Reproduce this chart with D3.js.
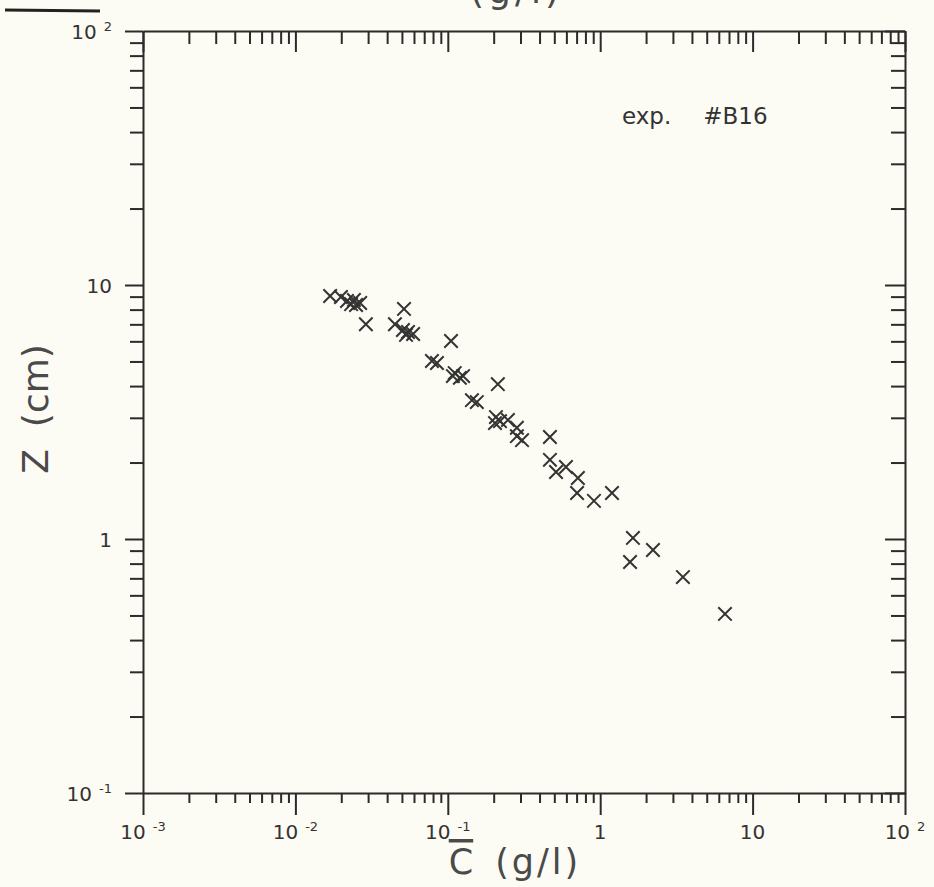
<!DOCTYPE html>
<html>
<head>
<meta charset="utf-8">
<script src="https://cdn.jsdelivr.net/npm/d3@7"></script>
<style>
  body { margin: 0; background: #fcfbf4; }
  svg { display: block; }
</style>
</head>
<body>
<div id="chart"></div>
<script>
// values: mean concentration C (g/l) against height Z (cm)
const concentration = [0.0169, 0.0199, 0.0218, 0.0232, 0.0250, 0.0266, 0.0242, 0.0290,
  0.0516, 0.0450, 0.0508, 0.0548, 0.0592, 0.0532, 0.105, 0.0787, 0.0849,
  0.111, 0.120, 0.126, 0.108, 0.213, 0.144, 0.155, 0.207, 0.220, 0.248,
  0.204, 0.284, 0.284, 0.307, 0.468, 0.468, 0.513, 0.596, 0.714, 0.705,
  0.910, 1.195, 1.64, 2.22, 1.57, 3.49, 6.59];
const heightZ = [9.05, 8.97, 8.65, 8.41, 8.34, 8.49, 8.73, 7.01,
  8.05, 7.01, 6.65, 6.53, 6.41, 6.36, 6.02, 5.02, 4.93,
  4.50, 4.31, 4.38, 4.38, 4.07, 3.52, 3.46, 3.02, 2.91, 2.94,
  2.86, 2.74, 2.54, 2.45, 2.52, 2.05, 1.835, 1.92, 1.738, 1.517,
  1.413, 1.517, 1.01, 0.905, 0.812, 0.708, 0.507];

const xMajor = [1e-3, 1e-2, 1e-1, 1, 10, 100];
const xTickBase = ["10", "10", "10", "1", "10", "10"];
const xTickExp = ["-3", "-2", "-1", "", "", "2"];
const yMajor = [0.1, 1, 10, 100];
const yTickBase = ["10", "1", "10", "10"];
const yTickExp = ["-1", "", "", "2"];

const W = 934, H = 887;
const margin = {top: 31, right: 29, bottom: 94, left: 143};
const ink = "#2b2b2b";
const font = "'DejaVu Sans', sans-serif";

const svg = d3.select("#chart")
  .append("svg")
    .attr("width", W)
    .attr("height", H);

const x = d3.scaleLog().domain([1e-3, 1e2]).range([margin.left, W - margin.right]);
const y = d3.scaleLog().domain([0.1, 100]).range([H - margin.bottom, margin.top]);

const xMinor = x.ticks().filter(v => !xMajor.some(m => Math.abs(m - v) / m < 1e-6));
const yMinor = y.ticks().filter(v => !yMajor.some(m => Math.abs(m - v) / m < 1e-6));

// helper: draw ticks only (labels are done separately)
function ticks(axis, values, size, tx, ty, keepDomain) {
  const g = svg.append("g")
    .attr("transform", `translate(${tx},${ty})`)
    .call(axis.tickValues(values).tickSize(size).tickSizeOuter(0).tickFormat(""));
  g.selectAll("line").attr("stroke", ink).attr("stroke-width", 2);
  if (keepDomain) g.select(".domain").attr("stroke", ink).attr("stroke-width", 2);
  else g.select(".domain").remove();
}

const x0 = margin.left, x1 = W - margin.right;
const y0 = H - margin.bottom, y1 = margin.top;

// bottom axis, ticks hang below
ticks(d3.axisBottom(x), xMinor, 10, 0, y0, false);
ticks(d3.axisBottom(x), xMajor, 22, 0, y0, true);
// top axis, ticks hang inside
ticks(d3.axisBottom(x), xMinor, 13, 0, y1, false);
ticks(d3.axisBottom(x), xMajor, 21, 0, y1, true);
// left axis, ticks outside
ticks(d3.axisLeft(y), yMinor, 13, x0, 0, false);
ticks(d3.axisLeft(y), yMajor, 18, x0, 0, true);
// right axis, ticks inside
ticks(d3.axisLeft(y), yMinor, 14, x1, 0, false);
ticks(d3.axisLeft(y), yMajor, 20, x1, 0, true);

// tick labels with superscript exponents
const xl = svg.append("g")
  .attr("font-family", font)
  .attr("fill", "#333")
  .selectAll("text")
  .data(xMajor)
  .join("text")
    .attr("x", d => x(d))
    .attr("y", y0 + 46)
    .attr("text-anchor", "middle")
    .attr("font-size", 20);
xl.append("tspan").text((d, i) => xTickBase[i]);
xl.append("tspan")
  .attr("dx", 7).attr("dy", -8).attr("font-size", 13)
  .text((d, i) => xTickExp[i]);

const yl = svg.append("g")
  .attr("font-family", font)
  .attr("fill", "#333")
  .selectAll("text")
  .data(yMajor)
  .join("text")
    .attr("x", x0 - 31)
    .attr("y", d => y(d) + 8)
    .attr("text-anchor", "end")
    .attr("font-size", 20);
yl.append("tspan").text((d, i) => yTickBase[i]);
yl.append("tspan")
  .attr("dx", 7).attr("dy", -8).attr("font-size", 13)
  .text((d, i) => yTickExp[i]);

// axis titles
const xt = svg.append("text")
  .attr("x", 515)
  .attr("y", 874)
  .attr("text-anchor", "middle")
  .attr("font-family", font)
  .attr("font-size", 35)
  .attr("fill", "#4a4a4a");
xt.append("tspan").style("text-decoration", "overline").text("C");
xt.append("tspan").attr("dx", 22).attr("letter-spacing", 3).text("(g/l)");

const yt = svg.append("text")
  .attr("transform", "translate(48,409) rotate(-90)")
  .attr("text-anchor", "middle")
  .attr("font-family", font)
  .attr("font-size", 36)
  .attr("fill", "#4a4a4a");
yt.append("tspan").text("Z");
yt.append("tspan").attr("dx", 22).text("(cm)");

// annotation
const ann = svg.append("text")
  .attr("x", 622)
  .attr("y", 124)
  .attr("font-family", font)
  .attr("font-size", 23)
  .attr("fill", "#333");
ann.append("tspan").text("exp.");
ann.append("tspan").attr("dx", 32).text("#B16");

// remnants of the previous figure cut off at the top of the page
svg.append("line")
  .attr("x1", 5).attr("x2", 100).attr("y1", 10).attr("y2", 11)
  .attr("stroke", "#222").attr("stroke-width", 3);
svg.append("text")
  .attr("x", 470).attr("y", 3)
  .attr("font-family", font)
  .attr("font-size", 36)
  .attr("letter-spacing", 4)
  .attr("fill", "#4a4a4a")
  .text("(g/l)");

// data markers
const cross = d3.symbol().type(d3.symbolX).size(120);
svg.append("g")
  .selectAll("path")
  .data(concentration)
  .join("path")
    .attr("transform", (d, i) => `translate(${x(d)},${y(heightZ[i])})`)
    .attr("d", cross)
    .attr("fill", "none")
    .attr("stroke", "#333")
    .attr("stroke-width", 2);
</script>
</body>
</html>
